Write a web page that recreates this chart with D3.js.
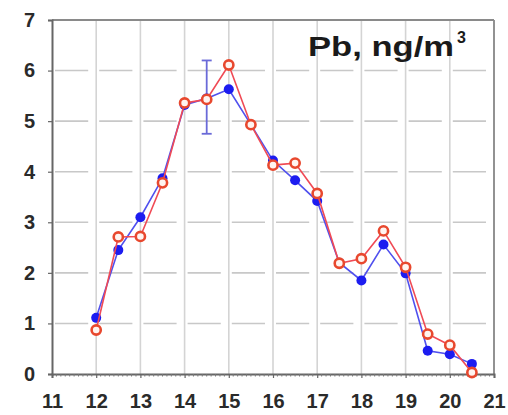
<!DOCTYPE html>
<html>
<head>
<meta charset="utf-8">
<script src="https://cdn.jsdelivr.net/npm/d3@7"></script>
<style>
  html, body { margin: 0; padding: 0; background: #fff; }
  svg { display: block; }
  text { font-family: "Liberation Sans", Arial, sans-serif; }
</style>
</head>
<body>
<svg id="chart" width="508" height="415"></svg>
<script>
// ---- data ----
const xValues    = [12, 12.5, 13, 13.5, 14, 14.5, 15, 15.5, 16, 16.5, 17, 17.5, 18, 18.5, 19, 19.5, 20, 20.5];
const blueValues = [1.11, 2.45, 3.10, 3.87, 5.32, 5.45, 5.63, 4.93, 4.22, 3.83, 3.42, 2.20, 1.85, 2.56, 1.99, 0.46, 0.39, 0.20];
const redValues  = [0.87, 2.71, 2.72, 3.78, 5.36, 5.43, 6.11, 4.93, 4.13, 4.17, 3.57, 2.19, 2.28, 2.83, 2.11, 0.79, 0.57, 0.03];
const errX    = [14.5];
const errLow  = [4.75];
const errHigh = [6.2];
const xTicks = [11, 12, 13, 14, 15, 16, 17, 18, 19, 20, 21];
const yTicks = [0, 1, 2, 3, 4, 5, 6, 7];
const titleMain = "Pb, ng/m";
const titleSup = "3";

// ---- layout ----
const svg = d3.select("#chart");
const x = d3.scaleLinear().domain([11, 21]).range([52, 494]);
const y = d3.scaleLinear().domain([0, 7]).range([374, 20]);
const fmt = d3.format("d");

// vertical gridlines
svg.append("g").selectAll("line").data(xTicks.slice(1))
  .join("line")
  .attr("x1", d => x(d)).attr("x2", d => x(d))
  .attr("y1", y(0)).attr("y2", y(7))
  .attr("stroke", "#d4d4d4").attr("stroke-width", 1.6);

// horizontal gridlines (dashed, broken at verticals)
const unit = x(12) - x(11);
svg.append("g").selectAll("line").data(yTicks.slice(1, -1))
  .join("line")
  .attr("x1", x(11)).attr("x2", x(21))
  .attr("y1", d => y(d)).attr("y2", d => y(d))
  .attr("stroke", "#c8c8c8").attr("stroke-width", 1.6)
  .attr("stroke-dasharray", `${unit - 11} 11`)
  .attr("stroke-dashoffset", -3);

// frame top/right
svg.append("line").attr("x1", x(11)).attr("x2", x(21)).attr("y1", y(7)).attr("y2", y(7))
  .attr("stroke", "#8a8a8a").attr("stroke-width", 1.8);
svg.append("line").attr("x1", x(21)).attr("x2", x(21)).attr("y1", y(7)).attr("y2", y(0))
  .attr("stroke", "#8a8a8a").attr("stroke-width", 1.8);

// x axis
const xAxis = d3.axisBottom(x).tickValues(xTicks).tickFormat(fmt).tickSize(4).tickPadding(16);
const gx = svg.append("g").attr("transform", `translate(0,${y(0)})`).call(xAxis);
gx.select(".domain").attr("stroke", "#666").attr("stroke-width", 2);
gx.selectAll(".tick line").attr("stroke", "#666").attr("stroke-width", 1.2);
gx.selectAll(".tick text")
  .attr("fill", "#2a2a2a").attr("font-size", 20).attr("font-weight", "bold")
  .attr("font-family", "'Liberation Sans', Arial, sans-serif");
// minor ticks
const minor = d3.range(110, 211).map(v => v / 10).filter(v => Math.abs(v - Math.round(v)) > 1e-6);
svg.append("g").selectAll("line").data(minor).join("line")
  .attr("x1", d => x(d)).attr("x2", d => x(d))
  .attr("y1", y(0)).attr("y2", y(0) + 2.5)
  .attr("stroke", "#777").attr("stroke-width", 1);

// y axis
const yAxis = d3.axisLeft(y).tickValues(yTicks).tickFormat(fmt).tickSize(4).tickPadding(13);
const gy = svg.append("g").attr("transform", `translate(${x(11)},0)`).call(yAxis);
gy.select(".domain").attr("stroke", "#666").attr("stroke-width", 2);
gy.selectAll(".tick line").attr("stroke", "#666").attr("stroke-width", 1.2);
gy.selectAll(".tick text")
  .attr("fill", "#2a2a2a").attr("font-size", 20).attr("font-weight", "bold")
  .attr("font-family", "'Liberation Sans', Arial, sans-serif");

// error bar
const eg = svg.append("g").attr("stroke", "#6a6ad8").attr("stroke-width", 1.8);
errX.forEach((ex, i) => {
  eg.append("line").attr("x1", x(ex)).attr("x2", x(ex)).attr("y1", y(errLow[i])).attr("y2", y(errHigh[i]));
  eg.append("line").attr("x1", x(ex) - 5).attr("x2", x(ex) + 5).attr("y1", y(errLow[i])).attr("y2", y(errLow[i]));
  eg.append("line").attr("x1", x(ex) - 5).attr("x2", x(ex) + 5).attr("y1", y(errHigh[i])).attr("y2", y(errHigh[i]));
});

const line = d3.line().x(d => x(d[0])).y(d => y(d[1]));
const blueData = xValues.map((v, i) => [v, blueValues[i]]);
const redData  = xValues.map((v, i) => [v, redValues[i]]);

// blue series
svg.append("path").datum(blueData).attr("d", line)
  .attr("fill", "none").attr("stroke", "#5050ee").attr("stroke-width", 1.6);
svg.append("g").selectAll("circle").data(blueData).join("circle")
  .attr("cx", d => x(d[0])).attr("cy", d => y(d[1])).attr("r", 5)
  .attr("fill", "#1c1cf0");

// red series
svg.append("path").datum(redData).attr("d", line)
  .attr("fill", "none").attr("stroke", "#f04a55").attr("stroke-width", 1.6);
svg.append("g").selectAll("circle").data(redData).join("circle")
  .attr("cx", d => x(d[0])).attr("cy", d => y(d[1])).attr("r", 4.6)
  .attr("fill", "#fff4f0").attr("stroke", "#e8482e").attr("stroke-width", 2.6);

// title
svg.append("text").attr("x", 308).attr("y", 56)
  .attr("font-size", 27).attr("font-weight", "bold").attr("fill", "#1a1a1a")
  .attr("textLength", 146).attr("lengthAdjust", "spacingAndGlyphs")
  .text(titleMain);
svg.append("text").attr("x", 457).attr("y", 43)
  .attr("font-size", 16).attr("font-weight", "bold").attr("fill", "#1a1a1a")
  .text(titleSup);
</script>
</body>
</html>
